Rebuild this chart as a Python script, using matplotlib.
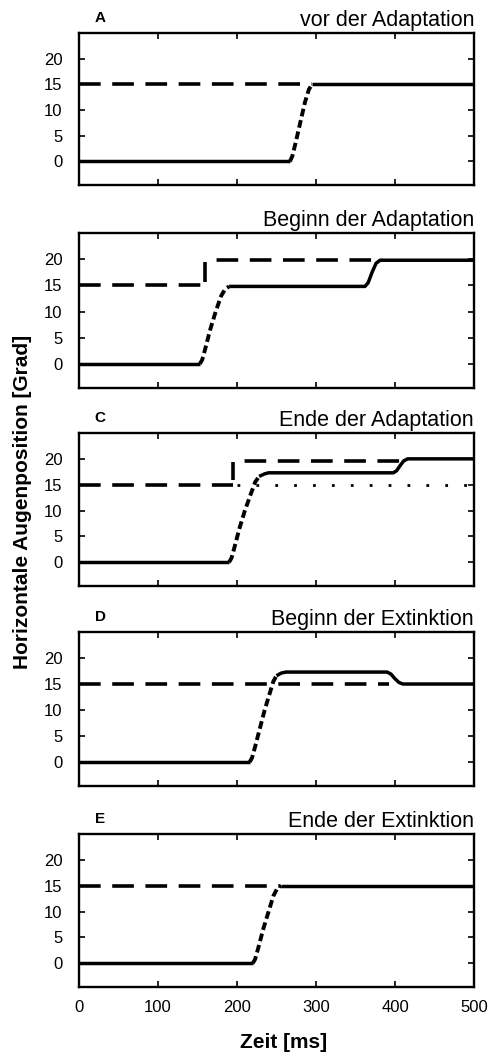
import numpy as np
import matplotlib
matplotlib.use('Agg')
import matplotlib.pyplot as plt
import matplotlib as mpl
mpl.rcParams.update({'font.family': ['Liberation Sans', 'DejaVu Sans']})
mpl.rcParams.update({'font.size': 12})

# --- data (time in ms, position in deg) ---
A_eye_t = [0, 267, 270, 274, 280, 286, 291, 295, 500]
A_eye = [0, 0, 1.0, 3.5, 7.5, 11.5, 14.0, 15.0, 15.0]
A_sacc = (267, 295)
A_target_t = [[0, 295]]
A_target = [[15, 15]]

B_eye_t = [0, 153, 156, 160, 166, 173, 180, 185, 190, 362, 366, 371, 376, 381, 500]
B_eye = [0, 0, 0.8, 3, 6.5, 10, 13, 14.3, 14.8, 14.8, 15.5, 17.5, 19.2, 19.8, 19.8]
B_sacc = (153, 190)
B_target_t = [[0, 160], [160, 160], [160, 385]]
B_target = [[15, 15], [15.6, 19.4], [19.9, 19.9]]

C_eye_t = [0, 190, 193, 197, 203, 210, 217, 223, 228, 235, 240, 398, 402, 407, 411, 416, 500]
C_eye = [0, 0, 0.8, 3, 6.5, 10, 13, 15.5, 16.6, 17.1, 17.3, 17.3, 17.7, 18.8, 19.6, 20.0, 20.0]
C_sacc = (190, 228)
C_target_t = [[0, 195], [195, 195], [195, 410]]
C_target = [[15, 15], [15.9, 19.4], [19.6, 19.6]]
C_orig_t = [200, 500]
C_orig = [15, 15]

D_eye_t = [0, 216, 219, 223, 229, 235, 241, 246, 250, 256, 262, 390, 395, 400, 405, 410, 500]
D_eye = [0, 0, 0.8, 3, 6.5, 10, 13, 15.5, 16.6, 17.1, 17.3, 17.3, 16.9, 16.0, 15.3, 15.0, 15.0]
D_sacc = (216, 250)
D_target_t = [[0, 393]]
D_target = [[15, 15]]

E_eye_t = [0, 220, 223, 227, 233, 240, 246, 251, 256, 500]
E_eye = [0, 0, 0.8, 3, 6.5, 10, 13, 14.5, 15, 15]
E_sacc = (220, 256)
E_target_t = [[0, 255]]
E_target = [[15, 15]]

letters = ['A', '', 'C', 'D', 'E']
titles = ['vor der Adaptation', 'Beginn der Adaptation', 'Ende der Adaptation',
          'Beginn der Extinktion', 'Ende der Extinktion']
yticks = [0, 5, 10, 15, 20]
xticks = [0, 100, 200, 300, 400, 500]

panels = [(A_eye_t, A_eye, A_sacc, A_target_t, A_target),
          (B_eye_t, B_eye, B_sacc, B_target_t, B_target),
          (C_eye_t, C_eye, C_sacc, C_target_t, C_target),
          (D_eye_t, D_eye, D_sacc, D_target_t, D_target),
          (E_eye_t, E_eye, E_sacc, E_target_t, E_target)]

W, H = 499, 1060
fig = plt.figure(figsize=(W/100., H/100.), dpi=100)

# axes boxes in pixels: (top, bottom)
boxes = [(33, 185), (233, 388), (433, 586), (632, 786), (834, 987)]
left, right = 79, 474

for i, (t, y, sacc, tt, ty) in enumerate(panels):
    top, bot = boxes[i]
    ax = fig.add_axes([left/W, 1-bot/H, (right-left)/W, (bot-top)/H])
    t = np.array(t, float)
    y = np.array(y, float)
    for k, (seg_t, seg_y) in enumerate(zip(tt, ty)):
        # segment after the target jump starts with a gap
        off = 6 if k == 2 else 0
        ax.plot(seg_t, seg_y, color='k', lw=2.6, linestyle=(off, (6, 3.2)), zorder=2)
    if i == 2:
        ax.plot(C_orig_t, C_orig, color='k', lw=2.0, dashes=(1, 5.8), zorder=2)
    pre = t <= sacc[0]
    mid = (t >= sacc[0]) & (t <= sacc[1])
    post = t >= sacc[1]
    ax.plot(t[pre], y[pre], color='k', lw=2.5, solid_capstyle='butt', zorder=3)
    ax.plot(t[mid], y[mid], color='k', lw=2.8, dashes=(2.0, 1.0), zorder=3)
    ax.plot(t[post], y[post], color='k', lw=2.5, solid_capstyle='butt', zorder=3)

    ax.set_xlim(0, 500)
    ax.set_ylim(-4.6, 25)
    ax.set_yticks(yticks)
    ax.set_xticks(xticks)
    ax.tick_params(direction='in', top=True, right=True, length=4, width=1.2,
                   labelsize=12)
    ax.tick_params(axis='y', pad=12)
    ax.tick_params(axis='x', pad=9)
    if i < 4:
        ax.set_xticklabels([])
    for s in ax.spines.values():
        s.set_linewidth(1.7)
    ax.set_title(titles[i], loc='right', fontsize=15.5, pad=5)
    if letters[i]:
        ax.text(0.04, 1.0 + 8/(bot-top), letters[i], transform=ax.transAxes,
                fontsize=11, fontweight='bold', va='bottom', ha='left')

fig.text(284/W, 1-1043/H, 'Zeit [ms]', fontsize=15, fontweight='bold',
         ha='center', va='center')
fig.text(23/W, 1-502/H, 'Horizontale Augenposition [Grad]', fontsize=15,
         fontweight='bold', rotation=90, ha='center', va='center')

plt.savefig('out.png', dpi=100)
